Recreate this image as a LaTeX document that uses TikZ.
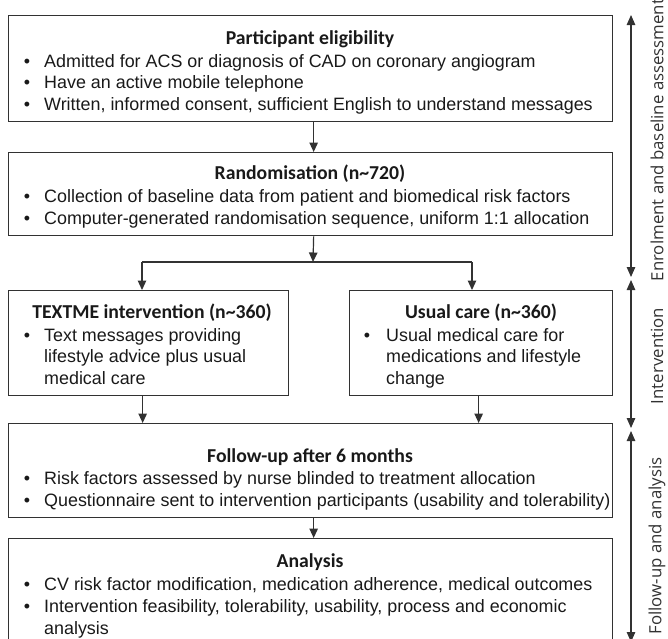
\documentclass[tikz,border=0pt]{standalone}
\usepackage{fontspec}
\setmainfont{Liberation Sans}
\newfontfamily\titlefont{Carlito}
\newfontfamily\sidefont{Open Sans}
\usetikzlibrary{arrows.meta}
\definecolor{boxgray}{RGB}{50,50,50}
\definecolor{inkc}{RGB}{25,25,25}
\begin{document}
\begin{tikzpicture}[x=1pt,y=-1pt,
  box/.style={draw=boxgray,line width=1.3pt,anchor=north west,inner sep=0pt},
  ttl/.style={font=\titlefont\bfseries\fontsize{19.7}{22}\selectfont,text=inkc,inner sep=0pt,anchor=base},
  txt/.style={font=\fontsize{17.9}{21}\selectfont,text=inkc,inner sep=0pt,anchor=base west},
  bul/.style={font=\fontsize{17.9}{21}\selectfont,text=inkc,inner sep=0pt,anchor=base},
  conn/.style={line width=1.2pt,draw=boxgray},
  arr/.style={conn,-{Triangle[length=9.5pt,width=8.5pt]}},
  darr/.style={line width=1.1pt,draw=boxgray,{Triangle[length=10pt,width=8.5pt]}-{Triangle[length=10pt,width=8.5pt]}},
  side/.style={font=\sidefont\fontsize{16.8}{18}\selectfont,text=boxgray,rotate=90,inner sep=0pt}
]
\useasboundingbox (0,0) rectangle (668,638);
\clip (0,0) rectangle (668,638);

% boxes
\node[box,minimum width=604pt,minimum height=106pt] (elig) at (8,15) {};
\node[box,minimum width=604pt,minimum height=83pt] (rand) at (8,152) {};
\node[box,minimum width=280pt,minimum height=105pt] (textme) at (8,290) {};
\node[box,minimum width=263pt,minimum height=105pt] (usual) at (349,290) {};
\node[box,minimum width=604pt,minimum height=94pt] (follow) at (8,423) {};
\node[box,minimum width=604pt,minimum height=115pt] (anal) at (8,538) {};

% participant eligibility
\node[ttl] (eligT) at (310,44) {Participant eligibility};
\node[bul] (e1b) at (27,67) {•};
\node[txt] (e1) at (44,67) {Admitted for ACS or diagnosis of CAD on coronary angiogram};
\node[bul] (e2b) at (27,88.5) {•};
\node[txt] (e2) at (44,88.5) {Have an active mobile telephone};
\node[bul] (e3b) at (27,110) {•};
\node[txt] (e3) at (44,110) {Written, informed consent, sufficient English to understand messages};

% randomisation
\node[ttl] (randT) at (310,179) {Randomisation (n\textasciitilde 720)};
\node[bul] (r1b) at (27,202) {•};
\node[txt] (r1) at (44,202) {Collection of baseline data from patient and biomedical risk factors};
\node[bul] (r2b) at (27,224) {•};
\node[txt] (r2) at (44,224) {Computer-generated randomisation sequence, uniform 1:1 allocation};

% TEXTME
\node[ttl] (textT) at (152,318) {TEXTME intervention (n\textasciitilde 360)};
\node[bul] (t1b) at (27,341) {•};
\node[txt] (t1) at (44,341) {Text messages providing};
\node[txt] (t2) at (44,362.5) {lifestyle advice plus usual};
\node[txt] (t3) at (44,384) {medical care};

% usual care
\node[ttl] (usualT) at (481,318) {Usual care (n\textasciitilde 360)};
\node[bul] (u1b) at (367,341) {•};
\node[txt] (u1) at (386,341) {Usual medical care for};
\node[txt] (u2) at (386,362.5) {medications and lifestyle};
\node[txt] (u3) at (386,384) {change};

% follow-up
\node[ttl] (followT) at (310,462) {Follow-up after 6 months};
\node[bul] (f1b) at (27,484.5) {•};
\node[txt] (f1) at (44,484.5) {Risk factors assessed by nurse blinded to treatment allocation};
\node[bul] (f2b) at (27,506) {•};
\node[txt] (f2) at (44,506) {Questionnaire sent to intervention participants (usability and tolerability)};

% analysis
\node[ttl] (analT) at (310,567) {Analysis};
\node[bul] (a1b) at (27,590) {•};
\node[txt] (a1) at (44,590) {CV risk factor modification, medication adherence, medical outcomes};
\node[bul] (a2b) at (27,612) {•};
\node[txt] (a2) at (44,612) {Intervention feasibility, tolerability, usability, process and economic};
\node[txt] (a3) at (44,634) {analysis};

% connectors
\coordinate (brc) at (313,262);
\coordinate (brl) at (142,262);
\coordinate (brr) at (472,262);
\draw[arr] ([xshift=3pt]elig.south) -- ([xshift=3pt]rand.north);
\draw[arr] ([xshift=3pt]rand.south) -- (brc);
\draw[conn] (brl) -- (brr);
\draw[arr] (brl) -- (brl |- textme.north);
\draw[arr] (brr) -- (brr |- usual.north);
\draw[arr] ([xshift=-6pt]textme.south) -- ([xshift=-6pt]textme.south |- follow.north);
\draw[arr] ([xshift=-2.5pt]usual.south) -- ([xshift=-2.5pt]usual.south |- follow.north);
\draw[arr] ([xshift=3pt]follow.south) -- ([xshift=3pt]anal.north);

% side phases
\coordinate (p1t) at (631,15);
\coordinate (p1b) at (631,277);
\coordinate (p2t) at (631,280);
\coordinate (p2b) at (631,428);
\coordinate (p3t) at (631,431);
\coordinate (p3b) at (631,642);
\draw[darr] (p1t) -- (p1b);
\draw[darr] (p2t) -- (p2b);
\draw[darr] (p3t) -- (p3b);
\node[side] (lab1) at (657,140) {Enrolment and baseline assessment};
\node[side] (lab2) at (657,356) {Intervention};
\node[side] (lab3) at (657,546) {Follow-up and analysis};
\end{tikzpicture}
\end{document}
